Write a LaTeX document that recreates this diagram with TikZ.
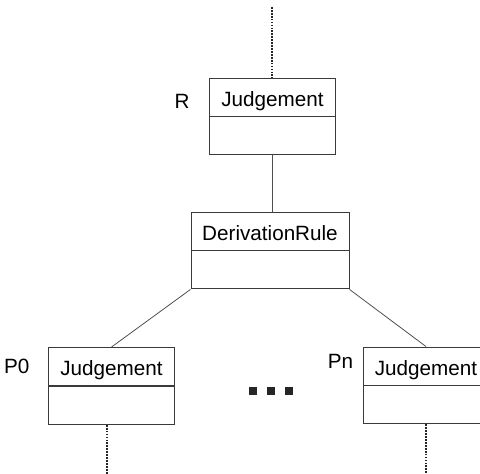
\documentclass[tikz,border=0pt]{standalone}
\usepackage{fontspec}
\setmainfont{Liberation Sans}
\usetikzlibrary{positioning}
\definecolor{boxline}{HTML}{3A3A3A}
\definecolor{linkline}{HTML}{505050}

\begin{document}
\begin{tikzpicture}[x=0.75pt, y=-0.75pt,
    every node/.style={font=\fontsize{15.5}{18}\selectfont},
    head/.style={draw=boxline, line width=0.7pt, minimum width=94.5pt,
                 minimum height=28.5pt, inner sep=0pt, text height=14pt, text depth=0pt},
    wide/.style={minimum width=118.5pt},
    body/.style={head, below=0pt of #1},
    link/.style={draw=linkline, line width=0.6pt},
    trail/.style={draw=black!85, line width=1.5pt, dash pattern=on 1.3pt off 0.9pt},
    dotsq/.style={fill=black!85, minimum size=6pt, inner sep=0pt}]
    \useasboundingbox (0,0) rectangle (480,474);
    % conclusion
    \node[head] (r) at (272.5,97) {Judgement};
    \node[body=r] (rb) {};
    \node[left=11pt of r, yshift=-3pt] (rlabel) {R};
    % rule
    \node[head, wide] (dr) at (270,231) {DerivationRule};
    \node[body=dr, wide] (drb) {};
    % premises
    \node[head] (p0) at (111.5,366.5) {Judgement};
    \node[body=p0] (p0b) {};
    \node[left=10.5pt of p0] (p0label) {P0};
    \node[head] (pn) at (426,366) {Judgement};
    \node[body=pn] (pnb) {};
    \node (pnlabel) at (340.5,361) {Pn};
    \foreach \x [count=\i] in {253,271,289}
      \node[dotsq] (dot\i) at (\x,391.5) {};
    % connectors
    \coordinate (rtop) at (272.5,7);
    \draw[trail] (rtop) -- (r.north);
    \draw[link] (rb.south) -- (rb.south |- dr.north);
    \draw[link] (drb.south west) -- (p0.north);
    \draw[link] (drb.south east) -- (pn.north);
    \draw[trail] ([xshift=-3pt]p0b.south) -- ++(0,50);
    \draw[trail] (pnb.south) -- ++(0,51);
\end{tikzpicture}
\end{document}
